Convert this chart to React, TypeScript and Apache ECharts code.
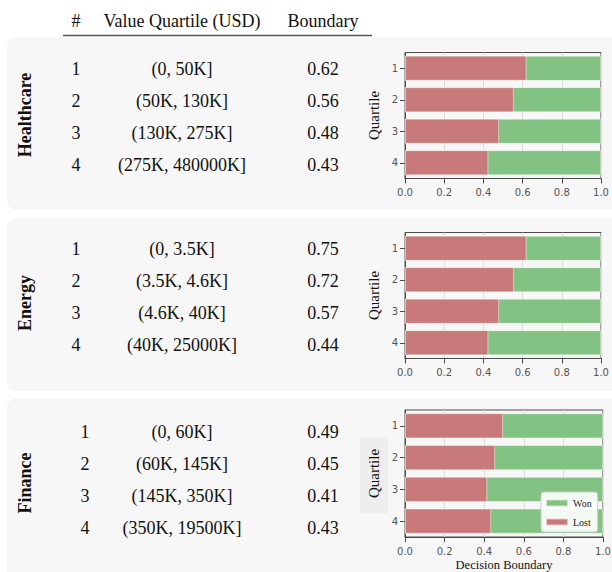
import React, { useEffect, useRef } from "react";
import * as echarts from "echarts";

// ---- data ----
const headerLabels = ["#", "Value Quartile (USD)", "Boundary"];
const sectors = ["Healthcare", "Energy", "Finance"];
const quartileNums = ["1", "2", "3", "4"];

const healthcareRanges = ["(0, 50K]", "(50K, 130K]", "(130K, 275K]", "(275K, 480000K]"];
const healthcareBoundary = [0.62, 0.56, 0.48, 0.43];
const healthcareBars = [0.62, 0.555, 0.48, 0.425];

const energyRanges = ["(0, 3.5K]", "(3.5K, 4.6K]", "(4.6K, 40K]", "(40K, 25000K]"];
const energyBoundary = [0.75, 0.72, 0.57, 0.44];
const energyBars = [0.62, 0.555, 0.48, 0.425];

const financeRanges = ["(0, 60K]", "(60K, 145K]", "(145K, 350K]", "(350K, 19500K]"];
const financeBoundary = [0.49, 0.45, 0.41, 0.43];
const financeBars = [0.495, 0.455, 0.415, 0.435];

const wonBars = [1, 1, 1, 1];
const legendNames = ["Won", "Lost"];

const SERIF = "'Liberation Serif', 'Times New Roman', serif";
const SANS = "'DejaVu Sans', sans-serif";
const RED = "#c87a7a";
const GREEN = "#82c282";

export default function App() {
  const ref = useRef<HTMLDivElement>(null);
  useEffect(() => {
    document.body.style.margin = "0";
    const chart = echarts.init(ref.current!, null, { renderer: "svg" });

    const panels = [
      { top: 37, bottom: 210, numX: 76, rows: [69, 101, 133, 165], labelY: 115, grid: { left: 405, top: 52.5, width: 196, height: 126 }, ranges: healthcareRanges, bnd: healthcareBoundary, bars: healthcareBars },
      { top: 218, bottom: 391, numX: 76, rows: [249, 281, 313, 345], labelY: 303, grid: { left: 405, top: 232.5, width: 196, height: 126 }, ranges: energyRanges, bnd: energyBoundary, bars: energyBars },
      { top: 398, bottom: 580, numX: 85, rows: [432, 464, 496, 528], labelY: 483, grid: { left: 405, top: 410, width: 198, height: 127 }, ranges: financeRanges, bnd: financeBoundary, bars: financeBars },
    ];

    const txt = (x: number, y: number, text: string, opts: any = {}) => ({
      type: "text",
      x,
      y,
      rotation: opts.rotation || 0,
      z: 5,
      style: {
        text,
        fill: opts.fill || "#111",
        font: `${opts.bold ? "bold " : ""}${opts.size || 18}px ${SERIF}`,
        align: opts.align || "center",
        verticalAlign: "middle",
        textAlign: opts.align || "center",
        textVerticalAlign: "middle",
      },
    });

    const graphics: any[] = [];
    panels.forEach((p) => {
      graphics.push({
        type: "rect",
        z: -10,
        shape: { x: 7, y: p.top, width: 640, height: p.bottom - p.top, r: 9 },
        style: { fill: "#f7f7f7" },
      });
    });
    graphics.push({
      type: "rect",
      z: -5,
      shape: { x: 360, y: 437, width: 28, height: 76 },
      style: { fill: "#eeeeee" },
    });
    graphics.push(txt(76, 21, headerLabels[0]));
    graphics.push(txt(182, 21, headerLabels[1]));
    graphics.push(txt(323, 21, headerLabels[2]));
    graphics.push({
      type: "line",
      z: 5,
      shape: { x1: 63, y1: 35.5, x2: 372, y2: 35.5 },
      style: { stroke: "#555", lineWidth: 1.5 },
    });
    panels.forEach((p, i) => {
      graphics.push(txt(25, p.labelY, sectors[i], { bold: true, size: 18, rotation: Math.PI / 2 }));
      p.rows.forEach((y, r) => {
        graphics.push(txt(p.numX, y, quartileNums[r]));
        graphics.push(txt(182, y, p.ranges[r]));
        graphics.push(txt(323, y, p.bnd[r].toFixed(2)));
      });
    });

    const grids = panels.map((p) => ({
      ...p.grid,
      show: true,
      borderColor: "#4a4a4a",
      borderWidth: 1,
      backgroundColor: "transparent",
      containLabel: false,
      outerBoundsMode: "none",
    }));

    const xAxes = panels.map((p, i) => ({
      type: "value",
      gridIndex: i,
      min: 0,
      max: 1,
      interval: 0.2,
      axisLine: { show: true, lineStyle: { color: "#4a4a4a" } },
      axisTick: { show: true, length: 5, lineStyle: { color: "#4a4a4a" } },
      axisLabel: { color: "#555", fontFamily: SANS, fontSize: 10, margin: 9, formatter: (v: number) => v.toFixed(1) },
      splitLine: { show: true, lineStyle: { color: "#dcdcdc", width: 1 } },
      name: i === 2 ? "Decision Boundary" : "",
      nameLocation: "middle",
      nameGap: 21,
      nameTextStyle: { color: "#111", fontFamily: SERIF, fontSize: 12.5 },
    }));

    const yAxes = panels.map((p, i) => ({
      type: "category",
      gridIndex: i,
      inverse: true,
      data: quartileNums,
      axisLine: { show: true, lineStyle: { color: "#4a4a4a" } },
      axisTick: { show: true, length: 5, alignWithLabel: true, lineStyle: { color: "#4a4a4a" } },
      axisLabel: { color: "#555", fontFamily: SANS, fontSize: 10, margin: 7 },
      splitLine: { show: false },
      name: "Quartile",
      nameLocation: "middle",
      nameGap: 24,
      nameTextStyle: { color: "#111", fontFamily: SERIF, fontSize: 15 },
    }));

    const series: any[] = [];
    panels.forEach((p, i) => {
      series.push({
        name: legendNames[0],
        type: "bar",
        xAxisIndex: i,
        yAxisIndex: i,
        data: wonBars,
        barWidth: 25,
        barGap: "-100%",
        itemStyle: { color: GREEN, borderColor: "rgba(255,255,255,0.6)", borderWidth: 0.8 },
        silent: true,
      });
      series.push({
        name: legendNames[1],
        type: "bar",
        xAxisIndex: i,
        yAxisIndex: i,
        data: p.bars,
        barWidth: 25,
        barGap: "-100%",
        itemStyle: { color: RED, borderColor: "rgba(255,255,255,0.6)", borderWidth: 0.8 },
        silent: true,
      });
    });

    chart.setOption({
      animation: false,
      backgroundColor: "#ffffff",
      grid: grids,
      xAxis: xAxes,
      yAxis: yAxes,
      series,
      legend: {
        data: legendNames,
        orient: "vertical",
        left: 541,
        top: 492,
        itemWidth: 22,
        itemHeight: 7,
        itemGap: 9,
        padding: [6, 6, 5, 4],
        backgroundColor: "rgba(255,255,255,0.9)",
        borderColor: "#cccccc",
        borderWidth: 1,
        borderRadius: 3,
        textStyle: { fontFamily: SERIF, fontSize: 10, color: "#222" },
        icon: "rect",
      },
      graphic: graphics,
    });
    return () => chart.dispose();
  }, []);
  return <div ref={ref} style={{ position: "absolute", left: 0, top: 0, width: 612, height: 572 }} />;
}
